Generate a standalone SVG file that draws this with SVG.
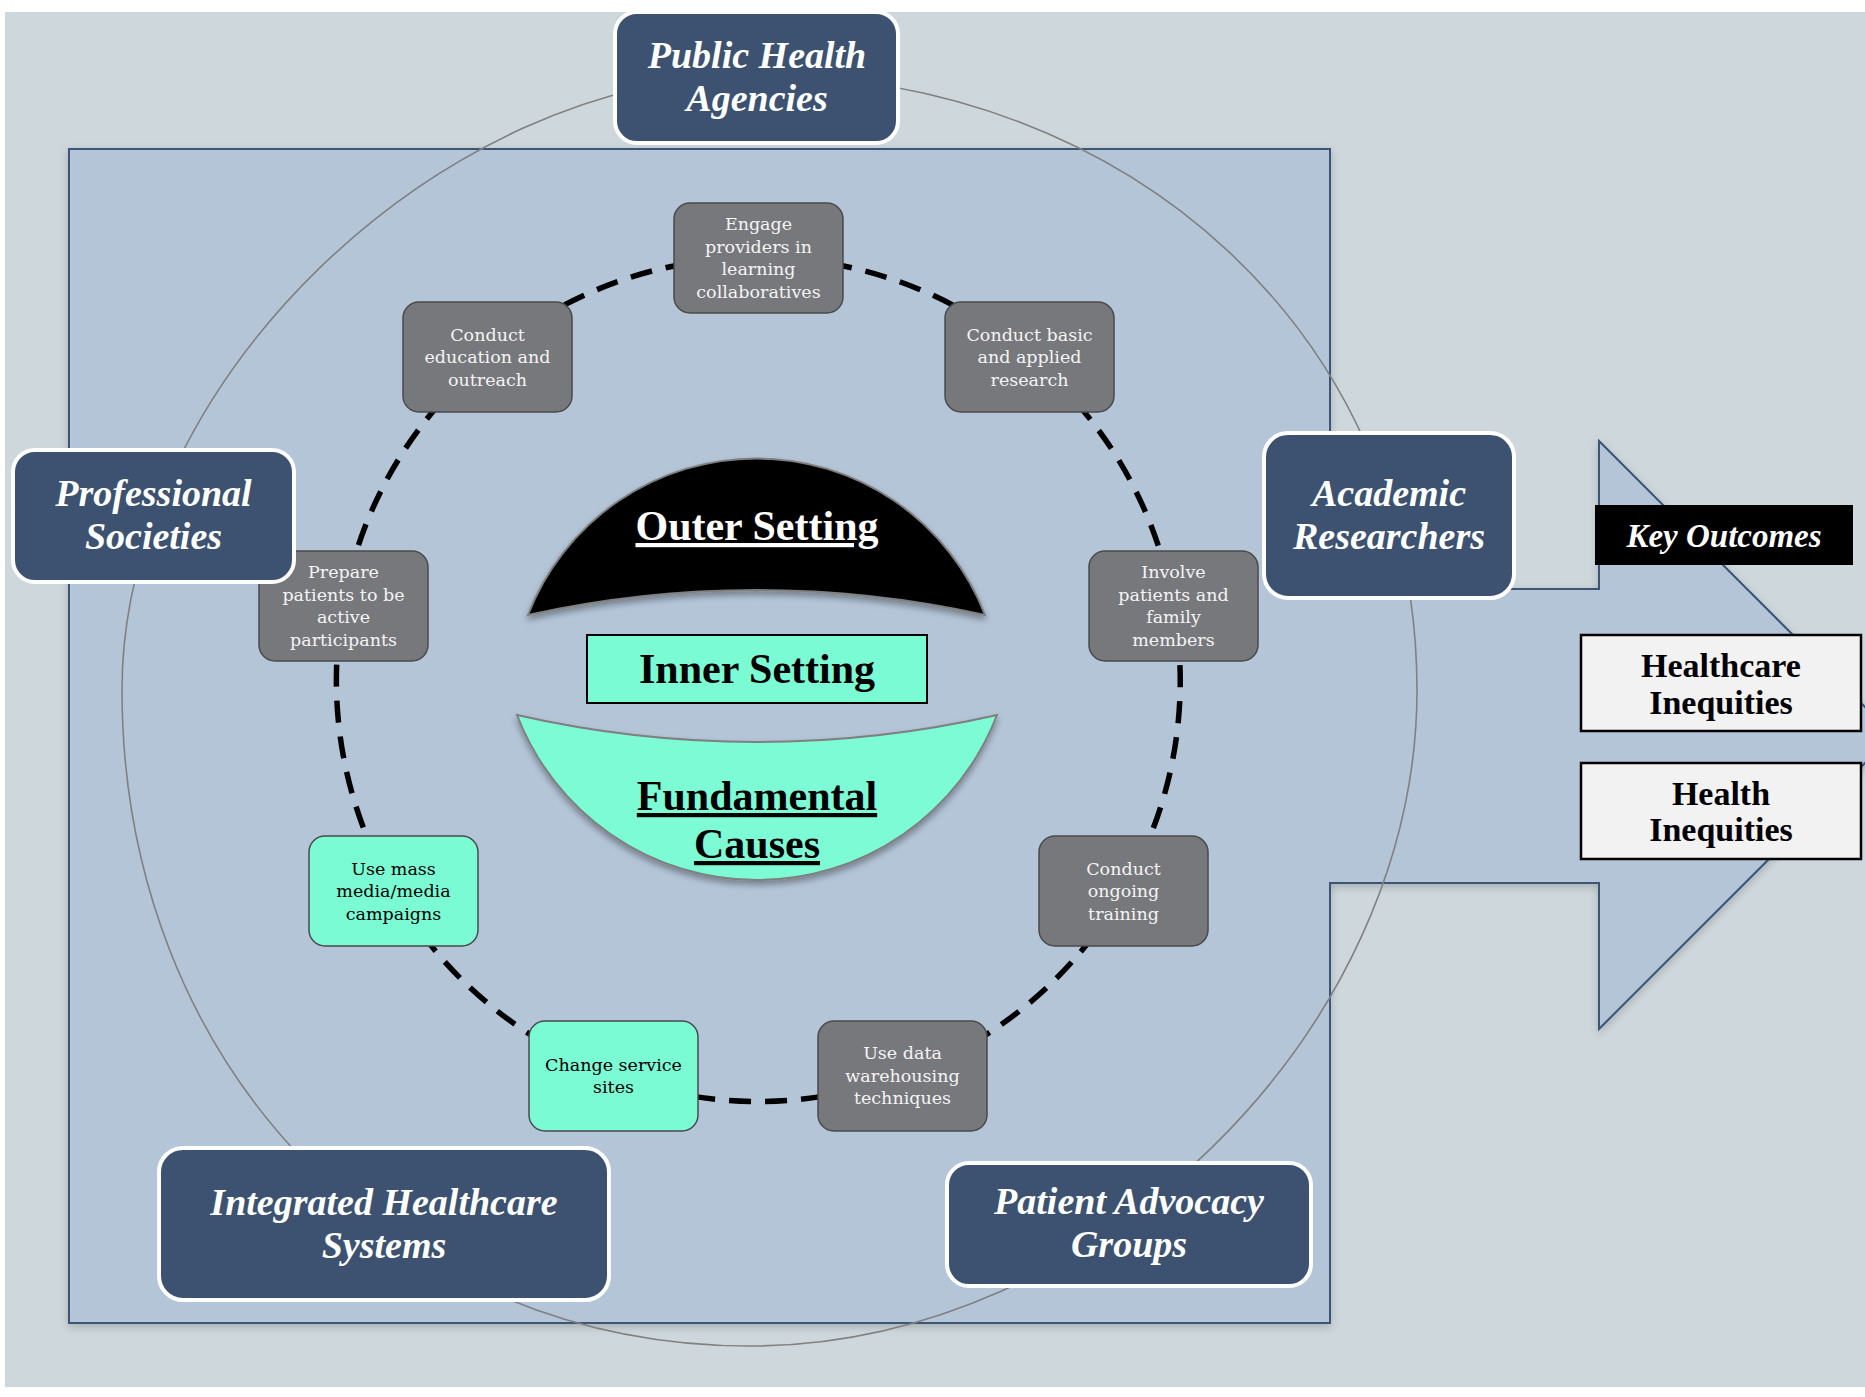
<svg xmlns="http://www.w3.org/2000/svg" width="1865" height="1397" viewBox="0 0 1865 1397">
<defs>
<style>
.sh rect{fill:#3C5270;stroke:#FFFFFF;stroke-width:4}
.sh text{font-family:"Liberation Serif",serif;font-weight:bold;font-style:italic;font-size:38px;fill:#FFFFFF;text-anchor:middle}
.nd rect{fill:#77787C;stroke:#4A4A4A;stroke-width:1.5}
.nd text{font-family:"DejaVu Serif",serif;font-size:17.5px;fill:#F4F4F4;text-anchor:middle}
.nd.teal rect{fill:#7BFBD4}
.nd.teal text{fill:#000000}
.big{font-family:"Liberation Serif",serif;font-weight:bold;font-size:42px;text-anchor:middle}
.out rect{fill:#F2F2F2;stroke:#000000;stroke-width:2.5}
.out text{font-family:"Liberation Serif",serif;font-weight:bold;font-size:34px;fill:#000000;text-anchor:middle}
</style>
<filter id="shd" x="-10%" y="-10%" width="120%" height="130%">
<feDropShadow dx="0" dy="4" stdDeviation="3" flood-color="#000" flood-opacity="0.35"/>
</filter>
<filter id="shd2" x="-5%" y="-5%" width="110%" height="110%">
<feDropShadow dx="0" dy="3" stdDeviation="4" flood-color="#000" flood-opacity="0.2"/>
</filter>
</defs>

<rect x="5" y="12" width="1860" height="1375" fill="#CED8DC"/>

<g id="frame">
<path d="M1330,883 L1330,1323 L69,1323 L69,149 L1330,149 L1330,589 L1599,589 L1599,441 L1893,735 L1599,1029 L1599,883 Z" fill="#B4C5D8" stroke="#3B5577" stroke-width="2" filter="url(#shd2)"/>
</g>

<g id="connectors">
<path id="outer-ring" d="M122,690 C122,382.5 439.5,75 757,75 C1133.2,75 1417,339.5 1417,690 C1417,1031.1 1096.8,1346 750,1346 C392,1346 122,1063.9 122,690 Z" fill="none" stroke="#808080" stroke-width="1.6"/>
<path id="inner-ring" d="M758.5,257.5 A415,415 0 0 1 1029.5,357 A415,415 0 0 1 1173.5,606.5 A415,415 0 0 1 1123.5,890.5 A415,415 0 0 1 902.5,1075.5 A415,415 0 0 1 613.5,1075.5 A415,415 0 0 1 393.5,890.5 A415,415 0 0 1 343,606.5 A415,415 0 0 1 487.5,357 A415,415 0 0 1 758.5,257.5 Z" fill="none" stroke="#000000" stroke-width="5.5" stroke-dasharray="22 14"/>
</g>

<g id="outer-setting">
<path d="M528,615 A245,245 0 0 1 985,615 A1057,1057 0 0 0 528,615 Z" fill="#000000" stroke="#7F7F7F" stroke-width="2" filter="url(#shd)"/>
<text class="big" x="757" y="540" fill="#FFFFFF" text-decoration="underline">Outer Setting</text>
</g>

<g id="inner-setting">
<rect x="587" y="635" width="340" height="68" fill="#7BFBD4" stroke="#000000" stroke-width="2"/>
<text class="big" x="757" y="683" fill="#000000">Inner Setting</text>
</g>

<g id="fundamental-causes">
<path d="M517,715 A1080,1080 0 0 0 997,715 A257,257 0 0 1 517,715 Z" fill="#7BFBD4" stroke="#7F7F7F" stroke-width="2" filter="url(#shd)"/>
<text class="big" x="757" y="810" fill="#000000" text-decoration="underline">Fundamental</text>
<text class="big" x="757" y="858" fill="#000000" text-decoration="underline">Causes</text>
</g>

<g id="node-engage" class="nd">
<rect x="674" y="203" width="169" height="110" rx="16"/>
<text x="758.5" y="230">Engage</text>
<text x="758.5" y="253">providers in</text>
<text x="758.5" y="275">learning</text>
<text x="758.5" y="298">collaboratives</text>
</g>
<g id="node-research" class="nd">
<rect x="945" y="302" width="169" height="110" rx="16"/>
<text x="1029.5" y="340.5">Conduct basic</text>
<text x="1029.5" y="363">and applied</text>
<text x="1029.5" y="385.5">research</text>
</g>
<g id="node-involve" class="nd">
<rect x="1089" y="551" width="169" height="110" rx="16"/>
<text x="1173.5" y="578">Involve</text>
<text x="1173.5" y="600.5">patients and</text>
<text x="1173.5" y="623">family</text>
<text x="1173.5" y="645.5">members</text>
</g>
<g id="node-training" class="nd">
<rect x="1039" y="836" width="169" height="110" rx="16"/>
<text x="1123.5" y="874.5">Conduct</text>
<text x="1123.5" y="897">ongoing</text>
<text x="1123.5" y="919.5">training</text>
</g>
<g id="node-data" class="nd">
<rect x="818" y="1021" width="169" height="110" rx="16"/>
<text x="902.5" y="1059">Use data</text>
<text x="902.5" y="1081.5">warehousing</text>
<text x="902.5" y="1104">techniques</text>
</g>
<g id="node-change" class="nd teal">
<rect x="529" y="1021" width="169" height="110" rx="16"/>
<text x="613.5" y="1070.5">Change service</text>
<text x="613.5" y="1093">sites</text>
</g>
<g id="node-media" class="nd teal">
<rect x="309" y="836" width="169" height="110" rx="16"/>
<text x="393.5" y="874.5">Use mass</text>
<text x="393.5" y="897">media/media</text>
<text x="393.5" y="919.5">campaigns</text>
</g>
<g id="node-prepare" class="nd">
<rect x="259" y="551" width="169" height="110" rx="16"/>
<text x="343.5" y="578">Prepare</text>
<text x="343.5" y="600.5">patients to be</text>
<text x="343.5" y="623">active</text>
<text x="343.5" y="645.5">participants</text>
</g>
<g id="node-education" class="nd">
<rect x="403" y="302" width="169" height="110" rx="16"/>
<text x="487.5" y="340.5">Conduct</text>
<text x="487.5" y="363">education and</text>
<text x="487.5" y="385.5">outreach</text>
</g>

<g id="public-health" class="sh">
<rect x="615" y="12" width="283" height="131" rx="22"/>
<text x="757" y="68">Public Health</text>
<text x="757" y="110.5">Agencies</text>
</g>
<g id="professional-societies" class="sh">
<rect x="13" y="450" width="281" height="132" rx="22"/>
<text x="153.5" y="506">Professional</text>
<text x="153.5" y="548.5">Societies</text>
</g>
<g id="academic-researchers" class="sh">
<rect x="1264" y="433" width="250" height="165" rx="24"/>
<text x="1389" y="506">Academic</text>
<text x="1389" y="548.5">Researchers</text>
</g>
<g id="integrated-healthcare" class="sh">
<rect x="159" y="1148" width="450" height="152" rx="24"/>
<text x="384" y="1215">Integrated Healthcare</text>
<text x="384" y="1257.5">Systems</text>
</g>
<g id="patient-advocacy" class="sh">
<rect x="947" y="1163" width="364" height="123" rx="22"/>
<text x="1129" y="1214">Patient Advocacy</text>
<text x="1129" y="1256.5">Groups</text>
</g>

<g id="key-outcomes">
<rect x="1595" y="505" width="258" height="60" fill="#000000"/>
<text x="1724" y="547" font-family="Liberation Serif, serif" font-weight="bold" font-style="italic" font-size="33" fill="#FFFFFF" text-anchor="middle">Key Outcomes</text>
</g>
<g id="healthcare-inequities" class="out">
<rect x="1581" y="635" width="280" height="96"/>
<text x="1721" y="677">Healthcare</text>
<text x="1721" y="714">Inequities</text>
</g>
<g id="health-inequities" class="out">
<rect x="1581" y="763" width="280" height="96"/>
<text x="1721" y="805">Health</text>
<text x="1721" y="841">Inequities</text>
</g>
</svg>
